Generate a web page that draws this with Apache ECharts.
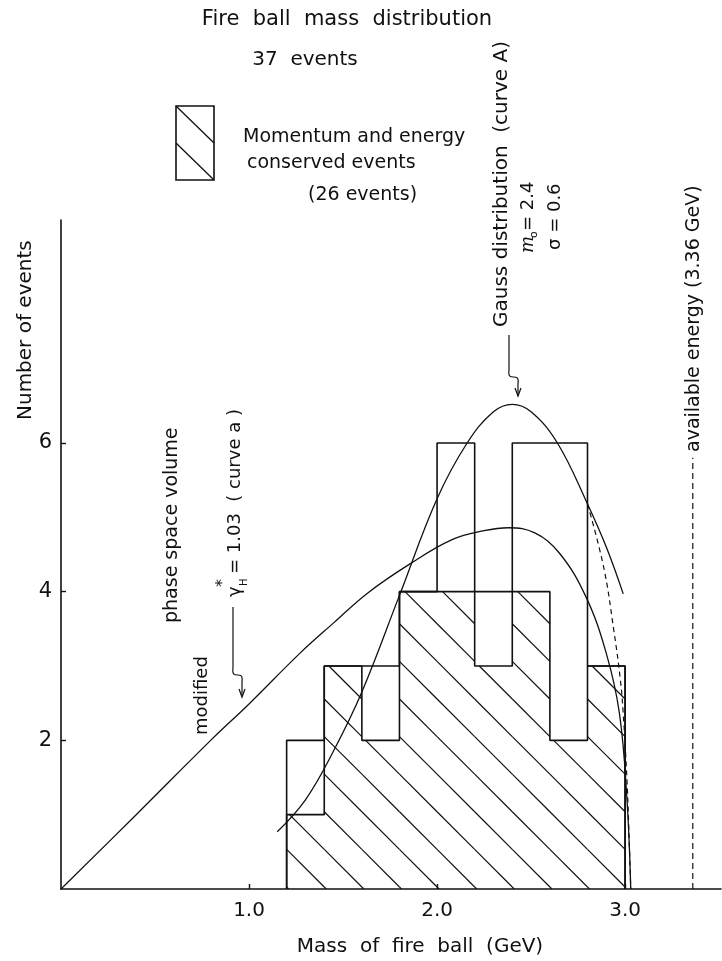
<!DOCTYPE html>
<html>
<head>
<meta charset="utf-8">
<script src="https://cdn.jsdelivr.net/npm/echarts@6/dist/echarts.min.js"></script>
<style>
  html, body { margin: 0; padding: 0; background: #fff; }
  #chart { width: 722px; height: 961px; }
</style>
</head>
<body>
<div id="chart"></div>
<script>
// Histogram: 0.2 GeV bins of fire ball mass
const binEdges = [1.2, 1.4, 1.6, 1.8, 2.0, 2.2, 2.4, 2.6, 2.8, 3.0];
const allEvents = [2, 3, 3, 4, 6, 4, 6, 6, 3];        // 37 events
const conservedEvents = [1, 3, 2, 4, 4, 3, 4, 2, 3];  // 26 events, hatched

// Modified phase space volume (curve a)
const phaseMass  = [0, 0.4, 0.8, 1.0, 1.27, 1.45, 1.63, 1.86, 2.08, 2.25, 2.38, 2.52, 2.65, 2.79, 2.9, 2.97, 3.01, 3.03];
const phaseCount = [0, 1.0, 2.01, 2.49, 3.17, 3.58, 3.98, 4.38, 4.70, 4.82, 4.86, 4.79, 4.52, 3.94, 3.17, 2.36, 1.2, 0];

// Gauss distribution (curve A), m0 = 2.4, sigma = 0.6
const gaussMass  = [1.15, 1.3, 1.45, 1.6, 1.8, 2.0, 2.16, 2.3, 2.4, 2.5, 2.64, 2.8, 2.9, 2.99];
const gaussCount = [0.77, 1.2, 1.86, 2.65, 3.95, 5.25, 6.0, 6.42, 6.52, 6.42, 6.0, 5.18, 4.6, 3.97];

// Dashed branch falling to the kinematic limit
const dashedMass  = [2.8, 2.886, 2.94, 2.975, 2.99, 3.01, 3.02, 3.03];
const dashedCount = [5.18, 4.33, 3.48, 2.81, 2.36, 1.46, 0.79, 0];

// Available energy marker (GeV)
const availableEnergy = 3.36;

// Axis ticks
const xTicks = [1.0, 2.0, 3.0];
const yTicks = [2, 4, 6];

// ---- layout / style ----
const FONT = 'DejaVu Sans';
const INK = '#111';
const energyLineTop = 5.8;   // height where the dashed marker meets its label
const hatchShift = 2;        // px shift of hatch lines along the baseline

function stepOutline(edges, counts) {
  const pts = [[edges[0], 0]];
  counts.forEach((c, i) => { pts.push([edges[i], c]); pts.push([edges[i + 1], c]); });
  pts.push([edges[edges.length - 1], 0]);
  return pts;
}
function pairs(xs, ys) { return xs.map((x, i) => [x, ys[i]]); }

function vText(text, x, y, size, extra) {
  return Object.assign({
    type: 'text', x: x, y: y, rotation: Math.PI / 2,
    style: { text: text, fill: INK, font: size + 'px "' + FONT + '"',
             textAlign: 'left', textVerticalAlign: 'middle' }
  }, extra || {});
}
function hText(text, x, y, size, align) {
  return {
    type: 'text', x: x, y: y,
    style: { text: text, fill: INK, font: size + 'px "' + FONT + '"',
             textAlign: align || 'center', textVerticalAlign: 'middle' }
  };
}
function seg(x1, y1, x2, y2, w) {
  return { type: 'line', shape: { x1, y1, x2, y2 }, style: { stroke: INK, lineWidth: w || 1.2 } };
}
function arrowHead(x, y) {
  return { type: 'polyline', shape: { points: [[x - 3, y - 8], [x, y], [x + 3, y - 8]] },
           style: { stroke: INK, lineWidth: 1.2, fill: null } };
}

const chart = echarts.init(document.getElementById('chart'), null, { renderer: 'canvas' });

const lineBase = { type: 'line', symbol: 'none', silent: true, animation: false };

chart.setOption({
  backgroundColor: '#fff',
  animation: false,
  grid: { left: 61, top: 220, width: 660, height: 669 },
  xAxis: {
    type: 'value', min: 0, max: 3.51,
    axisLine: { show: true, onZero: false, lineStyle: { color: INK, width: 1.6 } },
    axisTick: { show: true, inside: true, length: 5, customValues: xTicks, lineStyle: { color: INK, width: 1.4 } },
    axisLabel: { customValues: xTicks, formatter: v => v.toFixed(1), color: INK, fontSize: 20, fontFamily: FONT, margin: 12 },
    splitLine: { show: false }
  },
  yAxis: {
    type: 'value', min: 0, max: 9,
    axisLine: { show: true, onZero: false, lineStyle: { color: INK, width: 1.6 } },
    axisTick: { show: true, inside: true, length: 5, customValues: yTicks, lineStyle: { color: INK, width: 1.4 } },
    axisLabel: { customValues: yTicks, color: INK, fontSize: 21, fontFamily: FONT, margin: 9 },
    splitLine: { show: false }
  },
  series: [
    // hatching of the momentum- and energy-conserved events
    {
      type: 'custom', silent: true, animation: false, clip: true,
      encode: { x: [0, 1], y: 2 },
      data: conservedEvents.map((c, i) => [binEdges[i], binEdges[i + 1], c]),
      renderItem: function (params, api) {
        const x0 = api.value(0), x1 = api.value(1), h = api.value(2);
        const pLB = api.coord([x0, 0]);
        const pRT = api.coord([x1, h]);
        const L = pLB[0], B = pLB[1], R = pRT[0], T = pRT[1];
        const a = api.coord([binEdges[0], 0])[0] + hatchShift;
        const sp = api.coord([binEdges[1], 0])[0] - api.coord([binEdges[0], 0])[0];
        const children = [];
        const kMin = Math.ceil((L - a) / sp) - 1;
        const kMax = Math.floor((B - T + R - a) / sp) + 1;
        for (let k = kMin; k <= kMax; k++) {
          const c = B - (a + k * sp);
          const s = Math.max(L, T - c), e = Math.min(R, B - c);
          if (e > s + 0.5) children.push(seg(s, s + c, e, e + c, 1.2));
        }
        return { type: 'group', children: children };
      }
    },
    // outline of all 37 events
    Object.assign({}, lineBase, { data: stepOutline(binEdges, allEvents),
      lineStyle: { color: INK, width: 1.6 }, z: 3 }),
    // outline of the 26 conserved events
    Object.assign({}, lineBase, { data: stepOutline(binEdges, conservedEvents),
      lineStyle: { color: INK, width: 1.6 }, z: 3 }),
    // curve a
    Object.assign({}, lineBase, { data: pairs(phaseMass, phaseCount), smooth: 0.4,
      lineStyle: { color: INK, width: 1.3 }, z: 4 }),
    // curve A
    Object.assign({}, lineBase, { data: pairs(gaussMass, gaussCount), smooth: 0.4,
      lineStyle: { color: INK, width: 1.3 }, z: 4 }),
    // dashed branch
    Object.assign({}, lineBase, { data: pairs(dashedMass, dashedCount), smooth: 0.4,
      lineStyle: { color: INK, width: 1.2, type: [5, 4] }, z: 4 }),
    // available energy marker
    Object.assign({}, lineBase, { data: [[availableEnergy, 0], [availableEnergy, energyLineTop]],
      lineStyle: { color: INK, width: 1.2, type: [6, 4] }, z: 4 })
  ],
  graphic: [
    hText('Fire  ball  mass  distribution', 347, 20, 21),
    hText('37  events', 305, 60, 20),
    // legend swatch
    { type: 'rect', shape: { x: 176, y: 106, width: 38, height: 74 },
      style: { stroke: INK, lineWidth: 1.6, fill: null } },
    seg(176, 106, 214, 143, 1.3),
    seg(176, 143, 214, 180, 1.3),
    hText('Momentum and energy', 243, 137, 19, 'left'),
    hText('conserved events', 247, 163, 19, 'left'),
    hText('(26 events)', 308, 195, 19, 'left'),
    // axis names
    vText('Number of events', 26, 420, 20),
    hText('Mass  of  fire  ball  (GeV)', 420, 947, 20),
    // phase space annotation
    vText('phase space volume', 172, 623, 19),
    vText('modified', 202, 735, 18),
    { type: 'group', x: 235, y: 597, rotation: Math.PI / 2, children: [
      { type: 'text', x: 0, y: 0, style: { text: 'γ', fill: INK, font: '18px "' + FONT + '"', textAlign: 'left', textVerticalAlign: 'middle' } },
      { type: 'text', x: 10, y: -12, style: { text: '*', fill: INK, font: '16px "' + FONT + '"', textAlign: 'left', textVerticalAlign: 'middle' } },
      { type: 'text', x: 11, y: 9, style: { text: 'H', fill: INK, font: '10px "' + FONT + '"', textAlign: 'left', textVerticalAlign: 'middle' } },
      { type: 'text', x: 23, y: 0, style: { text: '= 1.03  ( curve a )', fill: INK, font: '18px "' + FONT + '"', textAlign: 'left', textVerticalAlign: 'middle' } }
    ] },
    seg(233, 607, 233, 668),
    { type: 'bezierCurve', shape: { x1: 233, y1: 668, cpx1: 231, cpy1: 682, cpx2: 244, cpy2: 668, x2: 242, y2: 682 },
      style: { stroke: INK, lineWidth: 1.2, fill: null } },
    seg(242, 682, 242, 697),
    arrowHead(242, 697),
    // Gauss annotation
    vText('Gauss distribution  (curve A)', 502, 327, 20),
    { type: 'group', x: 528, y: 253, rotation: Math.PI / 2, children: [
      { type: 'text', x: 0, y: 0, style: { text: 'm', fill: INK, font: 'italic 18px "DejaVu Serif"', textAlign: 'left', textVerticalAlign: 'middle' } },
      { type: 'text', x: 15, y: 6, style: { text: 'o', fill: INK, font: '11px "' + FONT + '"', textAlign: 'left', textVerticalAlign: 'middle' } },
      { type: 'text', x: 22, y: 0, style: { text: '= 2.4', fill: INK, font: '18px "' + FONT + '"', textAlign: 'left', textVerticalAlign: 'middle' } }
    ] },
    vText('σ = 0.6', 555, 250, 18),
    seg(509, 335, 509, 370),
    { type: 'bezierCurve', shape: { x1: 509, y1: 370, cpx1: 507, cpy1: 384, cpx2: 520, cpy2: 370, x2: 518, y2: 384 },
      style: { stroke: INK, lineWidth: 1.2, fill: null } },
    seg(518, 384, 518, 396),
    arrowHead(518, 396),
    // available energy label
    vText('available energy (3.36 GeV)', 694, 452, 19)
  ]
});
</script>
</body>
</html>
